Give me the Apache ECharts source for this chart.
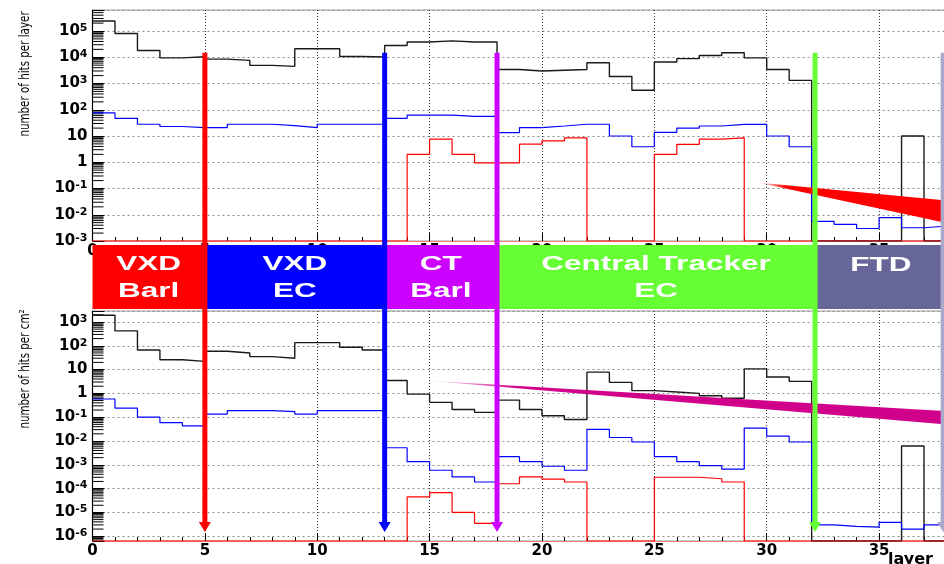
<!DOCTYPE html>
<html>
<head>
<meta charset="utf-8">
<script src="https://cdn.jsdelivr.net/npm/echarts@6/dist/echarts.min.js"></script>
<style>
  html, body { margin: 0; padding: 0; background: #fff; }
  #chart { width: 944px; height: 564px; }
</style>
</head>
<body>
<div id="chart"></div>
<script>
// Lower edge of each layer bin (one bin per detector layer)
const layer = [0, 1, 2, 3, 4, 5, 6, 7, 8, 9, 10, 11, 12, 13, 14, 15, 16, 17, 18, 19,
               20, 21, 22, 23, 24, 25, 26, 27, 28, 29, 30, 31, 32, 33, 34, 35, 36, 37];

// Number of hits per layer (0 = empty bin)
const hitsLayerBlack = [240000, 80000, 18000, 9500, 10500, 8500, 7600, 4900, 4500, 21000,
                        21000, 10700, 10200, 28000, 38000, 42000, 38000, 38000, 3400, 3000,
                        3200, 3400, 6200, 1860, 550, 6600, 8900, 11700, 14800, 9500,
                        3400, 1320, 0, 0, 0, 0, 10, 0];
const hitsLayerBlue = [76, 47, 28, 23, 21, 21, 28, 28, 25, 21,
                       28, 28, 28, 47, 62, 62, 56, 56, 13.5, 21,
                       24, 28, 28, 10, 3.9, 13.8, 20, 24, 27.5, 27.5,
                       10, 3.9, 0.0056, 0.0043, 0.0030, 0.0078, 0.0032, 0.0037];
const hitsLayerRed = [0, 0, 0, 0, 0, 0, 0, 0, 0, 0,
                      0, 0, 0, 0, 2.0, 7.6, 2.0, 0.95, 0.95, 4.9,
                      6.5, 8.5, 0, 0, 0, 2.0, 4.8, 7.6, 8.5, 0,
                      0, 0, 0, 0, 0, 0, 0, 0];

// Number of hits per cm^2 (0 = empty bin)
const hitsAreaBlack = [1900, 420, 66, 26, 22, 59, 50, 35, 30, 135,
                       135, 87, 66, 3.5, 0.93, 0.42, 0.21, 0.16, 0.52, 0.21,
                       0.115, 0.08, 7.8, 2.9, 1.3, 1.15, 1.0, 0.8, 0.62, 10.7,
                       4.9, 3.2, 0, 0, 0, 0, 0.0062, 0];
const hitsAreaBlue = [0.58, 0.24, 0.10, 0.059, 0.043, 0.135, 0.19, 0.19, 0.17, 0.135,
                      0.19, 0.19, 0.19, 0.0052, 0.00135, 0.00059, 0.00031, 0.00019, 0.0022, 0.00135,
                      0.00087, 0.00059, 0.031, 0.014, 0.0091, 0.0022, 0.00135, 0.00093, 0.00066, 0.035,
                      0.016, 0.0091, 3.0e-6, 2.6e-6, 2.4e-6, 3.8e-6, 2.0e-6, 3.0e-6];
const hitsAreaRed = [0, 0, 0, 0, 0, 0, 0, 0, 0, 0,
                     0, 0, 0, 0, 4.5e-5, 6.8e-5, 1.0e-5, 3.5e-6, 1.6e-4, 3.1e-4,
                     2.5e-4, 1.9e-4, 0, 0, 0, 3.0e-4, 3.0e-4, 2.6e-4, 1.9e-4, 0,
                     0, 0, 0, 0, 0, 0, 0, 0];

// Sub-detector regions along the layer axis
const regionNames = ['VXD\nBarl', 'VXD\nEC', 'CT\nBarl', 'Central Tracker\nEC', 'FTD'];
const regionStart = [0, 5, 13, 18, 32.15];
const regionEnd   = [5, 13, 18, 32.15, 38];
const regionColors = ['#ff0000', '#0000ff', '#cc00ff', '#66ff33', '#666699'];

// Boundary arrows: layer position, start value (upper plot) and tip value (lower plot)
const arrowLayer = [5, 13, 18, 32.15, 37.85];
const arrowColors = ['#ff0000', '#0000ff', '#cc00ff', '#66ff33', '#a9a9cc'];
const arrowFrom = 1.5e4;
const arrowTo = 1.5e-6;

// Pointer wedges: [layer, value] corners
const wedgeUpper = [[29.6, 0.17], [38, 0.035], [38, 0.0048]];
const wedgeLower = [[14.8, 3.5], [38, 0.18], [38, 0.05]];

const yRange = [[1e-3, Math.pow(10, 5.8)], [Math.pow(10, -6.2), Math.pow(10, 3.46)]];

const chart = echarts.init(document.getElementById('chart'), null, { renderer: 'canvas' });

// Histogram outline: one step per bin, empty bins sit on the axis floor
function histo(vals, floor) {
  const pts = vals.map((v, i) => [layer[i], v > 0 ? v : floor]);
  const last = vals.length - 1;
  pts.push([layer[last] + 1, vals[last] > 0 ? vals[last] : floor]);
  return pts;
}

// 2..9 x 10^n positions for the small log ticks
function logMinor(range) {
  const out = [];
  const lo = Math.floor(Math.log10(range[0])), hi = Math.ceil(Math.log10(range[1]));
  for (let n = lo; n <= hi; n++) {
    for (let k = 2; k <= 9; k++) {
      const v = k * Math.pow(10, n);
      if (v > range[0] && v < range[1]) out.push([0, v]);
    }
  }
  return out;
}

const labelFont = 'DejaVu Sans';
function expLabel(v) {
  const e = Math.log10(v);
  const r = Math.round(e);
  if (Math.abs(e - r) > 1e-6) return '';
  if (r === 0) return '{b|1}';
  if (r === 1) return '{b|10}';
  return '{b|10}{e|' + r + '}';
}

const grids = [
  { left: 92.5, top: 10, width: 854, height: 231 },
  { left: 92.5, top: 311, width: 854, height: 230 }
];

const xAxes = grids.map((g, i) => ({
  type: 'value', gridIndex: i, min: 0, max: 38, interval: 5,
  axisLine: { show: true, onZero: false, lineStyle: { color: '#ff7a7a', width: 1 } },
  axisTick: { show: true, inside: true, length: 8, lineStyle: { color: '#000' } },
  minorTick: { show: true, splitNumber: 5, length: 4, lineStyle: { color: '#000' } },
  splitLine: { show: true, lineStyle: { color: '#333', type: [1, 2], width: 1 } },
  axisLabel: {
    margin: 3, color: '#000', fontFamily: labelFont, fontWeight: 'bold', fontSize: 15,
    showMaxLabel: false,
    formatter: v => (v % 5 === 0 ? String(v) : '')
  }
}));

const yAxes = grids.map((g, i) => ({
  type: 'log', logBase: 10, gridIndex: i, min: yRange[i][0], max: yRange[i][1], splitNumber: 10,
  axisLine: { show: true, lineStyle: { color: '#000', width: 1.2 } },
  axisTick: { show: true, inside: true, length: 12, lineStyle: { color: '#000' } },
  splitLine: { show: true, lineStyle: { color: '#8c8c8c', type: [2, 3], width: 1 } },
  axisLabel: {
    margin: 5, formatter: expLabel,
    rich: {
      b: { fontFamily: labelFont, fontWeight: 'bold', fontSize: 15, color: '#000' },
      e: { fontFamily: labelFont, fontWeight: 'bold', fontSize: 11, color: '#000',
           verticalAlign: 'top', padding: [0, 0, 6, 0] }
    }
  }
}));

function lineSeries(idx, vals, color, width) {
  return {
    type: 'line', xAxisIndex: idx, yAxisIndex: idx, step: 'end', symbol: 'none',
    data: histo(vals, yRange[idx][0]), silent: true, animation: false,
    lineStyle: { color: color, width: width }
  };
}

function minorTicks(idx) {
  return {
    type: 'custom', xAxisIndex: idx, yAxisIndex: idx, silent: true, animation: false, clip: false,
    data: logMinor(yRange[idx]),
    renderItem: (params, api) => {
      const p = api.coord([0, api.value(1)]);
      return { type: 'line', shape: { x1: p[0], y1: p[1], x2: p[0] + 11, y2: p[1] },
               style: { stroke: '#000', lineWidth: 1 } };
    }
  };
}

chart.setOption({
  animation: false,
  backgroundColor: '#fff',
  grid: grids.map(g => Object.assign({
    containLabel: false, outerBoundsMode: 'none',
    show: true, borderColor: '#9a9a9a', borderWidth: 1, backgroundColor: 'transparent'
  }, g)),
  xAxis: xAxes,
  yAxis: yAxes,
  series: [
    lineSeries(0, hitsLayerBlack, '#1a1a1a', 1.4),
    lineSeries(0, hitsLayerBlue, '#0000ff', 1.2),
    lineSeries(0, hitsLayerRed, '#ff0000', 1.2),
    lineSeries(1, hitsAreaBlack, '#1a1a1a', 1.4),
    lineSeries(1, hitsAreaBlue, '#0000ff', 1.2),
    lineSeries(1, hitsAreaRed, '#ff0000', 1.2),
    minorTicks(0),
    minorTicks(1)
  ]
});

// Annotations placed through the axes' coordinate conversion
const px = (g, x, y) => chart.convertToPixel({ gridIndex: g }, [x, y]);
const graphics = [];

const bandTop = grids[0].top + grids[0].height + 4;
const bandBottom = grids[1].top - 2;
regionNames.forEach((name, i) => {
  const x0 = px(0, regionStart[i], 1)[0];
  const x1 = px(0, regionEnd[i], 1)[0];
  graphics.push({
    type: 'rect', z: 55, silent: true,
    shape: { x: x0, y: bandTop, width: x1 - x0, height: bandBottom - bandTop },
    style: { fill: regionColors[i] }
  });
  const twoLines = name.indexOf('\n') >= 0;
  graphics.push({
    type: 'text', z: 56, silent: true,
    x: (x0 + x1) / 2, y: twoLines ? (bandTop + bandBottom) / 2 + 1 : bandTop + 20,
    scaleX: 1.5,
    style: {
      text: name, fill: '#fff', font: 'bold 21px "Liberation Sans", Arial, sans-serif',
      align: 'center', verticalAlign: 'middle', lineHeight: 27
    }
  });
});

function wedge(g, pts, color, fade) {
  const p = pts.map(d => px(g, d[0], d[1]));
  return {
    type: 'polygon', z: 58, silent: true,
    shape: { points: p },
    style: {
      fill: new echarts.graphic.LinearGradient(0, 0, 1, 0, [
        { offset: 0, color: 'rgba(' + color + ',0)' },
        { offset: fade, color: 'rgba(' + color + ',1)' },
        { offset: 1, color: 'rgba(' + color + ',1)' }
      ])
    }
  };
}
graphics.push(wedge(0, wedgeUpper, '255,0,0', 0.15));
graphics.push(wedge(1, wedgeLower, '208,0,138', 0.18));

arrowLayer.forEach((L, i) => {
  const top = px(0, L, arrowFrom);
  const tip = px(1, L, arrowTo);
  const headLen = 10, headHalf = 6;
  graphics.push({
    type: 'line', z: 60, silent: true,
    shape: { x1: top[0], y1: top[1], x2: tip[0], y2: tip[1] - headLen + 1 },
    style: { stroke: arrowColors[i], lineWidth: 5 }
  });
  graphics.push({
    type: 'polygon', z: 60, silent: true,
    shape: { points: [[tip[0] - headHalf, tip[1] - headLen], [tip[0] + headHalf, tip[1] - headLen], [tip[0], tip[1]]] },
    style: { fill: arrowColors[i] }
  });
});

// Axis titles
const titleFont = '13.5px "Liberation Sans Narrow", "DejaVu Sans Condensed", sans-serif';
graphics.push({
  type: 'text', z: 40, silent: true, x: 25, y: 74, rotation: Math.PI / 2, scaleX: 0.85,
  style: { text: 'number of hits per layer', fill: '#000', font: titleFont,
           align: 'center', verticalAlign: 'middle' }
});
graphics.push({
  type: 'text', z: 40, silent: true, x: 25, y: 369, rotation: Math.PI / 2, scaleX: 0.85,
  style: { text: 'number of hits per cm²', fill: '#000', font: titleFont,
           align: 'center', verticalAlign: 'middle' }
});
graphics.push({
  type: 'text', z: 40, silent: true, x: 888, y: 560,
  style: { text: 'layer', fill: '#000', font: 'bold 16px "DejaVu Sans", sans-serif',
           align: 'left', verticalAlign: 'middle' }
});

chart.setOption({ graphic: graphics });
</script>
</body>
</html>
